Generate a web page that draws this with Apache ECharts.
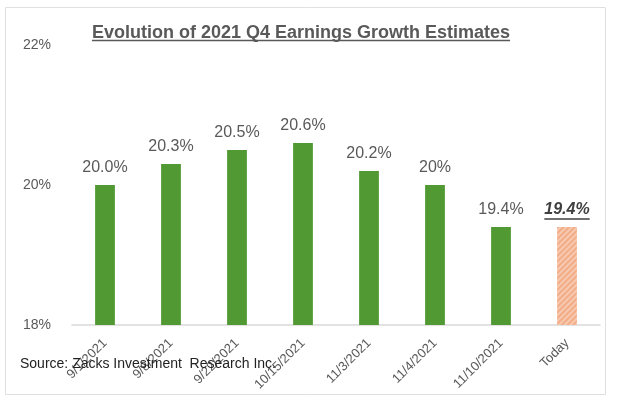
<!DOCTYPE html>
<html><head><meta charset="utf-8">
<script src="https://cdn.jsdelivr.net/npm/echarts@6/dist/echarts.min.js"></script>
<style>html,body{margin:0;padding:0;background:#fff}#c{width:620px;height:405px}</style>
</head><body><div id="c"></div>
<script>
const categories = ['9/1/2021','9/8/2021','9/22/2021','10/15/2021','11/3/2021','11/4/2021','11/10/2021','Today'];
const values = [20.0, 20.3, 20.5, 20.6, 20.2, 20.0, 19.4, 19.4];
const valueLabels = ['20.0%','20.3%','20.5%','20.6%','20.2%','20%','19.4%','19.4%'];
const yTicks = [18, 20, 22];
const titleText = 'Evolution of 2021 Q4 Earnings Growth Estimates';

const chart = echarts.init(document.getElementById('c'));
const FONT = '"Liberation Sans", Arial, sans-serif';
const ctx = document.createElement('canvas').getContext('2d');
ctx.font = 'bold 18px ' + FONT;
const tW = ctx.measureText(titleText).width;
const titleCenter = 301;

const data = values.map((v, i) => {
  const last = i === values.length - 1;
  return {
    value: v,
    itemStyle: last ? {
      color: '#F2AC86',
      decal: { symbol: 'rect', dashArrayX: [1, 0], dashArrayY: [1.5, 1.5], rotation: -Math.PI / 4, color: 'rgba(255,255,255,0.35)' }
    } : { color: '#519A33' },
    label: last ? { fontWeight: 'bold', fontStyle: 'italic', color: '#404040' } : {}
  };
});
chart.setOption({
  backgroundColor: '#fff',
  animation: false,
  title: {
    text: titleText, padding: 0,
    left: titleCenter - tW / 2, top: 24,
    textStyle: { fontFamily: FONT, fontSize: 18, fontWeight: 'bold', color: '#595959' }
  },
  grid: { left: 72, right: 20, top: 45, bottom: 80, containLabel: false },
  xAxis: {
    type: 'category', data: categories,
    axisLine: { lineStyle: { color: '#D9D9D9', width: 1.5 } },
    axisTick: { show: false },
    axisLabel: { rotate: 45, interval: 0, fontFamily: FONT, fontSize: 13, color: '#595959', margin: 16 }
  },
  yAxis: {
    type: 'value', min: 18, max: 22, interval: 2,
    splitLine: { show: false },
    axisLine: { show: false }, axisTick: { show: false },
    axisLabel: { formatter: v => yTicks.includes(v) ? v + '%' : '', fontFamily: FONT, fontSize: 14, color: '#595959', margin: 21 }
  },
  series: [{
    type: 'bar', data: data, barWidth: '30%',
    label: {
      show: true, position: 'top', distance: 9,
      formatter: p => valueLabels[p.dataIndex],
      fontFamily: FONT, fontSize: 16, color: '#595959'
    }
  }],
  graphic: [
    { type: 'rect', shape: { x: 5.5, y: 7.5, width: 600, height: 387 }, style: { fill: 'none', stroke: '#E0E0E0', lineWidth: 1 }, z: -1 },
    { type: 'text', left: 20, top: 357, style: { text: 'Source: Zacks Investment  Research Inc.', font: '14px ' + FONT, fill: '#222' }, z: 100 }
  ]
});

// underlines (text decoration) computed from rendered positions
const extra = [];
extra.push({ type: 'line', shape: { x1: titleCenter - tW / 2, y1: 40.5, x2: titleCenter + tW / 2, y2: 40.5 }, style: { stroke: '#595959', lineWidth: 1.3 } });
const li = values.length - 1;
const pt = chart.convertToPixel({ seriesIndex: 0 }, [li, values[li]]);
ctx.font = 'italic bold 16px ' + FONT;
const lW = ctx.measureText(valueLabels[li]).width;
extra.push({ type: 'line', shape: { x1: pt[0] - lW / 2, y1: pt[1] - 8, x2: pt[0] + lW / 2, y2: pt[1] - 8 }, style: { stroke: '#404040', lineWidth: 1.3 } });
const opt = chart.getOption();
chart.setOption({ graphic: opt.graphic[0].elements.concat(extra) }, { replaceMerge: [] });
</script></body></html>
